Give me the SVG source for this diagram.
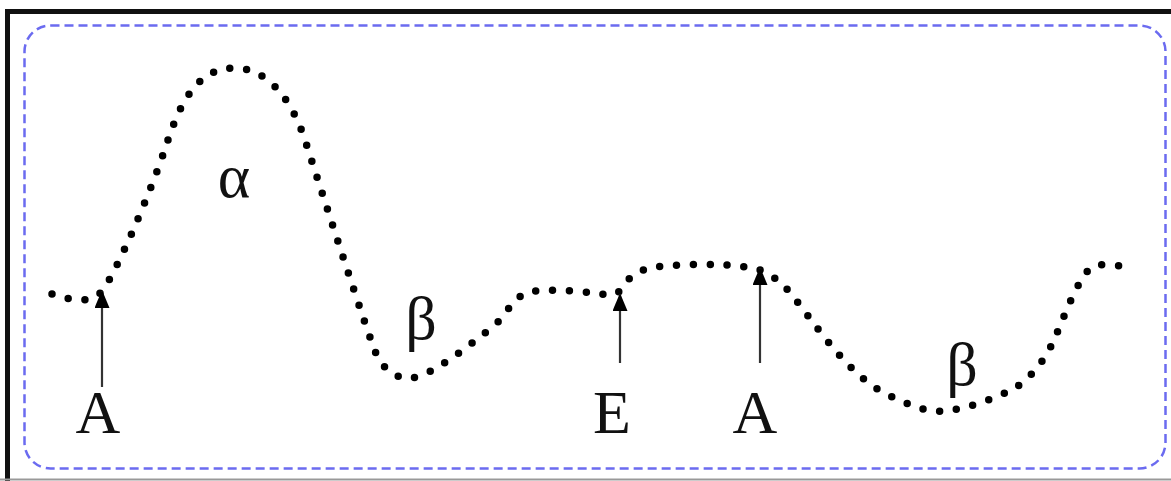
<svg xmlns="http://www.w3.org/2000/svg" width="1171" height="481" viewBox="0 0 1171 481">
<style>
.frame{fill:none;stroke:#111;stroke-width:5}
.box{fill:none;stroke:#6b6bf0;stroke-width:2.5;stroke-dasharray:9 5}
.curve{fill:none;stroke:#000;stroke-width:7.5;stroke-linecap:round;stroke-dasharray:0 16.8}
.arrow{stroke:#333;stroke-width:2.2;fill:none;marker-end:url(#ah)}
.lbl{font-family:"Liberation Serif","Times New Roman",serif;font-size:62px;fill:#111;text-anchor:middle}
</style>
<defs>
<marker id="ah" viewBox="0 0 18 15" refX="17" refY="7.5" markerWidth="18" markerHeight="15" markerUnits="userSpaceOnUse" orient="auto">
<path d="M0,0 L18,7.5 L0,15 Z" fill="#000"/>
</marker>
</defs>
<rect width="1171" height="481" fill="#fff"/>
<g id="frame">
<path class="frame" d="M7.5,481 V11.5 H1171"/>
<line x1="0" y1="479.5" x2="1171" y2="479.5" stroke="#999" stroke-width="2"/>
</g>
<g id="box">
<rect class="box" x="24.5" y="25.5" width="1141" height="443" rx="26" ry="26"/>
</g>
<g id="curve">
<path class="curve" d="M52,294 C75,302 92,303 102,291 C115,275 150,195 168,140 C182,98 200,68 234,68 C265,68 290,95 305,140 C318,180 350,280 373,346 C381,369 395,379 411,378 C430,377 470,345 495,325 C510,310 515,292 537,291 C560,289 590,292 607,295 C615,296 620,292 625,285 C630,275 640,268 665,266 C700,263 740,264 760,270 C780,278 790,292 805,312 C830,345 860,385 895,398 C915,408 930,412 945,411 C975,407 995,397 1010,391 C1030,380 1045,360 1054,340 C1065,315 1075,285 1090,268 C1100,262 1120,265 1132,269"/>
</g>
<g id="connectors">
<line class="arrow" x1="102" y1="387" x2="102" y2="291"/>
<line class="arrow" x1="620" y1="363" x2="620" y2="294"/>
<line class="arrow" x1="760" y1="363" x2="760" y2="268"/>
</g>
<g id="label-A1"><text class="lbl" x="98" y="433">A</text></g>
<g id="label-E"><text class="lbl" x="612" y="433">E</text></g>
<g id="label-A2"><text class="lbl" x="755" y="433">A</text></g>
<g id="label-alpha"><text class="lbl" x="234" y="197">α</text></g>
<g id="label-beta1"><text class="lbl" x="421" y="339">β</text></g>
<g id="label-beta2"><text class="lbl" x="962" y="385">β</text></g>
</svg>
